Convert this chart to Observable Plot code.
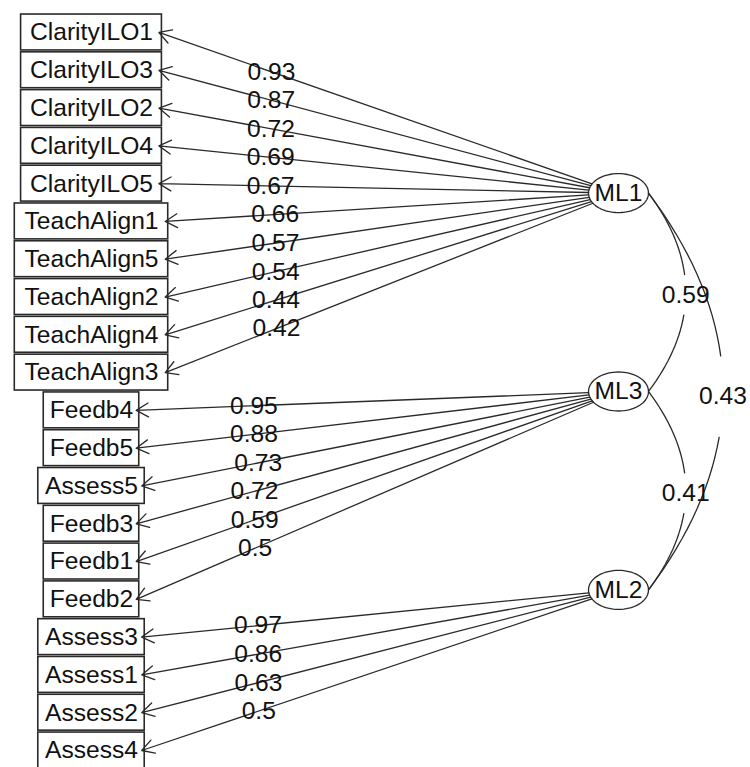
<!DOCTYPE html>
<html><head><meta charset="utf-8">
<script src="https://cdn.jsdelivr.net/npm/d3@7"></script>
<script src="https://cdn.jsdelivr.net/npm/@observablehq/plot@0.6"></script>
<style>html,body{margin:0;padding:0;background:#fff;}</style>
</head><body><div id="chart"></div>
<script>
// ---- data ----
const items = ["ClarityILO1","ClarityILO3","ClarityILO2","ClarityILO4","ClarityILO5",
  "TeachAlign1","TeachAlign5","TeachAlign2","TeachAlign4","TeachAlign3",
  "Feedb4","Feedb5","Assess5","Feedb3","Feedb1","Feedb2",
  "Assess3","Assess1","Assess2","Assess4"];
const loadings = [0.93,0.87,0.72,0.69,0.67,0.66,0.57,0.54,0.44,0.42,
  0.95,0.88,0.73,0.72,0.59,0.5,
  0.97,0.86,0.63,0.5];
const itemFactor = ["ML1","ML1","ML1","ML1","ML1","ML1","ML1","ML1","ML1","ML1",
  "ML3","ML3","ML3","ML3","ML3","ML3",
  "ML2","ML2","ML2","ML2"];
const factors = ["ML1","ML3","ML2"];
const corrFrom = ["ML1","ML3","ML1"];
const corrTo = ["ML3","ML2","ML2"];
const corrValues = [0.59, 0.41, 0.43];

// ---- layout ----
const W = 750, H = 767;
const PX = 37.79;               // pixels per diagram unit
const FONT = '"Liberation Sans", Arial, Helvetica, sans-serif';
const FS = 24.6;
const yMin = 0.55;
const itemX = 91 / PX, factorX = 618 / PX;
const rx = 30 / PX, ry = 19.5 / PX;
const boxHalfH = 0.475, boxScale = 1.145;
const labelFrac = 0.26;
const INK = "#2a2a2a";

const nv = items.length, nf = factors.length;
const fscale = (nv + 1) / (nf + 1);
const factorY = new Map(factors.map((f, j) => [f, (nf - j) * fscale]));

const ctx = document.createElement("canvas").getContext("2d");
ctx.font = `${FS}px ${FONT}`;
const tw = s => ctx.measureText(s).width / PX;

const boxes = items.map((name, i) => {
  const w = tw(name) * boxScale;
  const y = nv - i;
  return {name, cx: itemX, y, x1: itemX - w / 2, x2: itemX + w / 2,
          y1: y - boxHalfH, y2: y + boxHalfH};
});

const arrows = items.map((name, i) => {
  const b = boxes[i];
  const fx = factorX, fy = factorY.get(itemFactor[i]);
  const tx = b.x2 - 3 / PX, ty = b.y;
  const dx = tx - fx, dy = ty - fy;
  const t = 1 / Math.sqrt((dx / rx) ** 2 + (dy / ry) ** 2);
  const sx = fx + dx * t, sy = fy + dy * t;
  return {x1: sx, y1: sy, x2: tx, y2: ty, value: loadings[i],
          lx: tx + labelFrac * (sx - tx), ly: ty + labelFrac * (sy - ty)};
});

const ellipsePts = [];
factors.forEach(f => {
  const cy = factorY.get(f);
  for (let k = 0; k < 72; k++) {
    const a = 2 * Math.PI * k / 72;
    ellipsePts.push({factor: f, x: factorX + rx * Math.cos(a), y: cy + ry * Math.sin(a)});
  }
});
const factorLabels = factors.map(f => ({name: f, x: factorX, y: factorY.get(f)}));

const arcPts = [], arcLabels = [];
corrValues.forEach((v, c) => {
  const ya = factorY.get(corrFrom[c]), yb = factorY.get(corrTo[c]);
  const yLow = Math.min(ya, yb), yHigh = Math.max(ya, yb);
  const x0 = factorX + rx;
  const bulge = 0.188 * (yHigh - yLow);
  const n = 40;
  const pt = i => { const t = i / (n - 1); return {x: x0 + bulge * 4 * t * (1 - t), y: yLow + (yHigh - yLow) * t}; };
  for (let i = 0; i <= 15; i++) arcPts.push({seg: c + "a", ...pt(i)});
  for (let i = 23; i < n; i++) arcPts.push({seg: c + "b", ...pt(i)});
  arcLabels.push({value: v, ...pt(19)});
});

const chart = Plot.plot({
  width: W, height: H, margin: 0,
  x: {domain: [0, W / PX], range: [0, W], axis: null},
  y: {domain: [yMin, yMin + H / PX], range: [H, 0], axis: null},
  style: {fontFamily: FONT, fontSize: FS + "px", background: "white", color: "#111"},
  marks: [
    Plot.rect(boxes, {x1: "x1", x2: "x2", y1: "y1", y2: "y2", fill: "white", stroke: INK, strokeWidth: 1.6}),
    Plot.text(boxes, {x: "cx", y: "y", text: "name", fontSize: FS, fill: "#111"}),
    Plot.arrow(arrows, {x1: "x1", y1: "y1", x2: "x2", y2: "y2", stroke: INK, strokeWidth: 1.3, headLength: 16, headAngle: 60}),
    Plot.text(arrows, {x: "lx", y: "ly", text: d => String(d.value), fontSize: FS, fill: "#111"}),
    Plot.line(ellipsePts, {x: "x", y: "y", z: "factor", curve: "linear-closed", stroke: INK, strokeWidth: 1.3}),
    Plot.text(factorLabels, {x: "x", y: "y", text: "name", fontSize: FS, fill: "#111"}),
    Plot.line(arcPts, {x: "x", y: "y", z: "seg", stroke: INK, strokeWidth: 1.3}),
    Plot.text(arcLabels, {x: "x", y: "y", text: d => String(d.value), fontSize: FS, fill: "#111"})
  ]
});
document.getElementById("chart").appendChild(chart);
</script>
</body></html>
